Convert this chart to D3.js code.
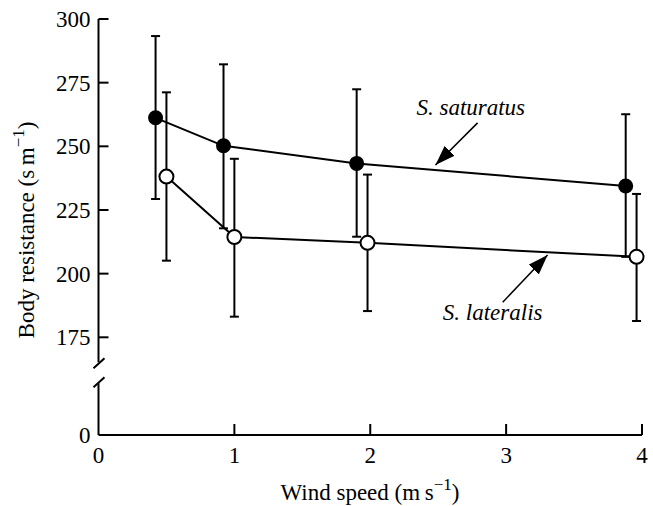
<!DOCTYPE html>
<html>
<head>
<meta charset="utf-8">
<script src="https://cdn.jsdelivr.net/npm/d3@7"></script>
<style>
  body { margin: 0; background: #fff; }
  text { font-family: "Liberation Serif", "Times New Roman", serif; fill: #000; }
</style>
</head>
<body>
<svg width="653" height="506"></svg>
<script>
// S. saturatus (filled circles)
var satX     = [0.42, 0.92, 1.90, 3.88];
var satMean  = [261.2, 250.2, 243.3, 234.4];
var satUpper = [293.3, 282.2, 272.4, 262.6];
var satLower = [229.3, 217.8, 214.5, 206.6];

// S. lateralis (open circles)
var latX     = [0.50, 1.00, 1.98, 3.96];
var latMean  = [238.1, 214.4, 212.1, 206.6];
var latUpper = [271.2, 245.1, 238.9, 231.3];
var latLower = [205.1, 183.1, 185.3, 181.4];

var xTicks = [0, 1, 2, 3, 4];
var yTicks = [175, 200, 225, 250, 275, 300];

// annotation: label start + arrow tail -> tip, in data units
var satNote = {label: "S. saturatus", lx: 2.34, ly: 262.3, tail: [2.79, 259.2], tip: [2.48, 242.7]};
var latNote = {label: "S. lateralis", lx: 2.534, ly: 181.8, tail: [2.975, 188.8], tip: [3.305, 207.3]};

var svg = d3.select("svg");

var x = d3.scaleLinear().domain([0, 4]).range([98.5, 642]);
// upper part of the broken axis
var y = d3.scaleLinear().domain([175, 300]).range([337.3, 19]);
var yZero = 435;
var fs = "23px";

var g = svg.append("g");

// arrow head
svg.append("defs").append("marker")
    .attr("id", "head")
    .attr("viewBox", "0 0 20 14")
    .attr("refX", 20).attr("refY", 7)
    .attr("markerWidth", 20).attr("markerHeight", 14)
    .attr("markerUnits", "userSpaceOnUse")
    .attr("orient", "auto")
  .append("path")
    .attr("d", "M0,0 L20,7 L0,14 Z")
    .attr("fill", "#000");

// y axis (broken)
var ax = x(0);
g.append("line").attr("x1", ax).attr("x2", ax)
  .attr("y1", y(300)).attr("y2", y(175) + 25)
  .attr("stroke", "#000").attr("stroke-width", 2);
g.append("line").attr("x1", ax).attr("x2", ax)
  .attr("y1", y(175) + 46).attr("y2", yZero)
  .attr("stroke", "#000").attr("stroke-width", 2);
// break slashes
[y(175) + 26, y(175) + 45].forEach(function(c) {
  g.append("line").attr("x1", ax - 5).attr("x2", ax + 6)
    .attr("y1", c + 5).attr("y2", c - 5)
    .attr("stroke", "#000").attr("stroke-width", 2);
});

yTicks.forEach(function(t) {
  g.append("line").attr("x1", ax).attr("x2", ax + 10)
    .attr("y1", y(t)).attr("y2", y(t))
    .attr("stroke", "#000").attr("stroke-width", 2);
  g.append("text").attr("x", ax - 8).attr("y", y(t)).attr("dy", "0.35em")
    .attr("text-anchor", "end").style("font-size", fs).text(t);
});
g.append("text").attr("x", ax - 8).attr("y", yZero).attr("dy", "0.35em")
  .attr("text-anchor", "end").style("font-size", fs).text("0");

// x axis
g.append("line").attr("x1", x(0)).attr("x2", x(4))
  .attr("y1", yZero).attr("y2", yZero)
  .attr("stroke", "#000").attr("stroke-width", 2);
xTicks.forEach(function(t) {
  if (t > 0) {
    g.append("line").attr("x1", x(t)).attr("x2", x(t))
      .attr("y1", yZero).attr("y2", yZero - 11)
      .attr("stroke", "#000").attr("stroke-width", 2);
  }
  g.append("text").attr("x", x(t)).attr("y", 463)
    .attr("text-anchor", "middle").style("font-size", fs).text(t);
});

// axis titles
var xt = g.append("text").attr("x", 370).attr("y", 500)
  .attr("text-anchor", "middle").style("font-size", fs);
xt.append("tspan").text("Wind speed (m\u2009s");
xt.append("tspan").attr("dy", -10).style("font-size", "17px").text("\u22121");
xt.append("tspan").attr("dy", 10).text(")");

var yt = g.append("text").attr("transform", "translate(34,230) rotate(-90)")
  .attr("text-anchor", "middle").style("font-size", fs);
yt.append("tspan").text("Body resistance (s\u2009m");
yt.append("tspan").attr("dy", -10).style("font-size", "17px").text("\u22121");
yt.append("tspan").attr("dy", 10).text(")");

// series
function drawSeries(xs, mean, upper, lower) {
  var pts = xs.map(function(d, i) { return {x: d, m: mean[i], u: upper[i], l: lower[i]}; });
  var line = d3.line().x(function(d) { return x(d.x); }).y(function(d) { return y(d.m); });
  g.append("path").datum(pts).attr("d", line)
    .attr("fill", "none").attr("stroke", "#000").attr("stroke-width", 2);
  pts.forEach(function(d) {
    var cx = x(d.x);
    g.append("line").attr("x1", cx).attr("x2", cx)
      .attr("y1", y(d.u)).attr("y2", y(d.l))
      .attr("stroke", "#000").attr("stroke-width", 2);
    [d.u, d.l].forEach(function(v) {
      g.append("line").attr("x1", cx - 4.5).attr("x2", cx + 4.5)
        .attr("y1", y(v)).attr("y2", y(v))
        .attr("stroke", "#000").attr("stroke-width", 2);
    });
  });
  return pts;
}
var satPts = drawSeries(satX, satMean, satUpper, satLower);
var latPts = drawSeries(latX, latMean, latUpper, latLower);

// markers on top
g.selectAll(".sat").data(satPts).enter().append("circle")
  .attr("cx", function(d) { return x(d.x); })
  .attr("cy", function(d) { return y(d.m); })
  .attr("r", 7.5).attr("fill", "#000");
g.selectAll(".lat").data(latPts).enter().append("circle")
  .attr("cx", function(d) { return x(d.x); })
  .attr("cy", function(d) { return y(d.m); })
  .attr("r", 7).attr("fill", "#fff").attr("stroke", "#000").attr("stroke-width", 2);

// annotations
[satNote, latNote].forEach(function(n) {
  g.append("text").attr("x", x(n.lx)).attr("y", y(n.ly))
    .style("font-size", fs).style("font-style", "italic").text(n.label);
  g.append("line")
    .attr("x1", x(n.tail[0])).attr("y1", y(n.tail[1]))
    .attr("x2", x(n.tip[0])).attr("y2", y(n.tip[1]))
    .attr("stroke", "#000").attr("stroke-width", 1.5)
    .attr("marker-end", "url(#head)");
});
</script>
</body>
</html>
